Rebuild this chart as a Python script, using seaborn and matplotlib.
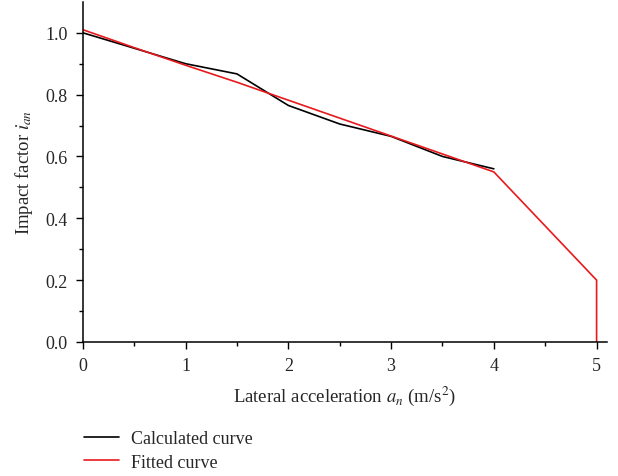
import matplotlib
matplotlib.use("Agg")
import matplotlib.pyplot as plt
import seaborn as sns
import pandas as pd

# calculated curve
calc_x = [0, 0.5, 1, 1.5, 2, 2.5, 3, 3.5, 4]
calc_y = [1.0, 0.95, 0.9, 0.867, 0.765, 0.705, 0.665, 0.6, 0.56]
# fitted curve
fit_x = [0, 0.5, 1, 1.5, 2, 2.5, 3, 3.5, 4, 5, 5]
fit_y = [1.01, 0.952, 0.895, 0.84, 0.782, 0.724, 0.666, 0.608, 0.55, 0.2, 0.0]

sns.set_style("ticks")
plt.rcParams['font.family'] = ['Liberation Serif', 'DejaVu Serif']
plt.rcParams['mathtext.fontset'] = 'stix'

calc = pd.DataFrame({'x': calc_x, 'y': calc_y})
fit = pd.DataFrame({'x': fit_x, 'y': fit_y})

fig = plt.figure(figsize=(6.18, 4.77), dpi=100)
ax = fig.add_axes([0.134, 0.281, 0.848, 0.713])

sns.lineplot(data=calc, x='x', y='y', ax=ax, color='black', linewidth=1.2,
             estimator=None, sort=False, label='Calculated curve')
sns.lineplot(data=fit, x='x', y='y', ax=ax, color='#e8191c', linewidth=1.2,
             estimator=None, sort=False, label='Fitted curve')

ax.set_xlim(0, 5.1)
ax.set_ylim(0, 1.1)
ax.set_xticks([0, 1, 2, 3, 4, 5])
ax.set_xticks([0.5, 1.5, 2.5, 3.5, 4.5], minor=True)
ax.set_yticks([0.0, 0.2, 0.4, 0.6, 0.8, 1.0])
ax.set_yticks([0.1, 0.3, 0.5, 0.7, 0.9], minor=True)
ax.yaxis.set_major_formatter(matplotlib.ticker.FormatStrFormatter('%.1f'))
ax.tick_params(which='major', length=5, width=1, labelsize=13, color='black', pad=6)
ax.tick_params(which='minor', length=3, width=1, color='black')
for s in ['left', 'bottom']:
    ax.spines[s].set_linewidth(1.1)
    ax.spines[s].set_color('black')
sns.despine(ax=ax)

ax.set_xlabel('Lateral acceleration $a_n$ (m/s$^2$)', fontsize=13.5, labelpad=7)
ax.set_ylabel('Impact factor $i_{an}$', fontsize=13.5, labelpad=7)

handles, labels = ax.get_legend_handles_labels()
ax.get_legend().remove()
fig.legend(handles, labels, loc='upper left', bbox_to_anchor=(0.11, 0.13),
           frameon=False, fontsize=13, handlelength=1.9, handletextpad=0.7,
           labelspacing=0.35)

fig.savefig('out.png', dpi=100)
